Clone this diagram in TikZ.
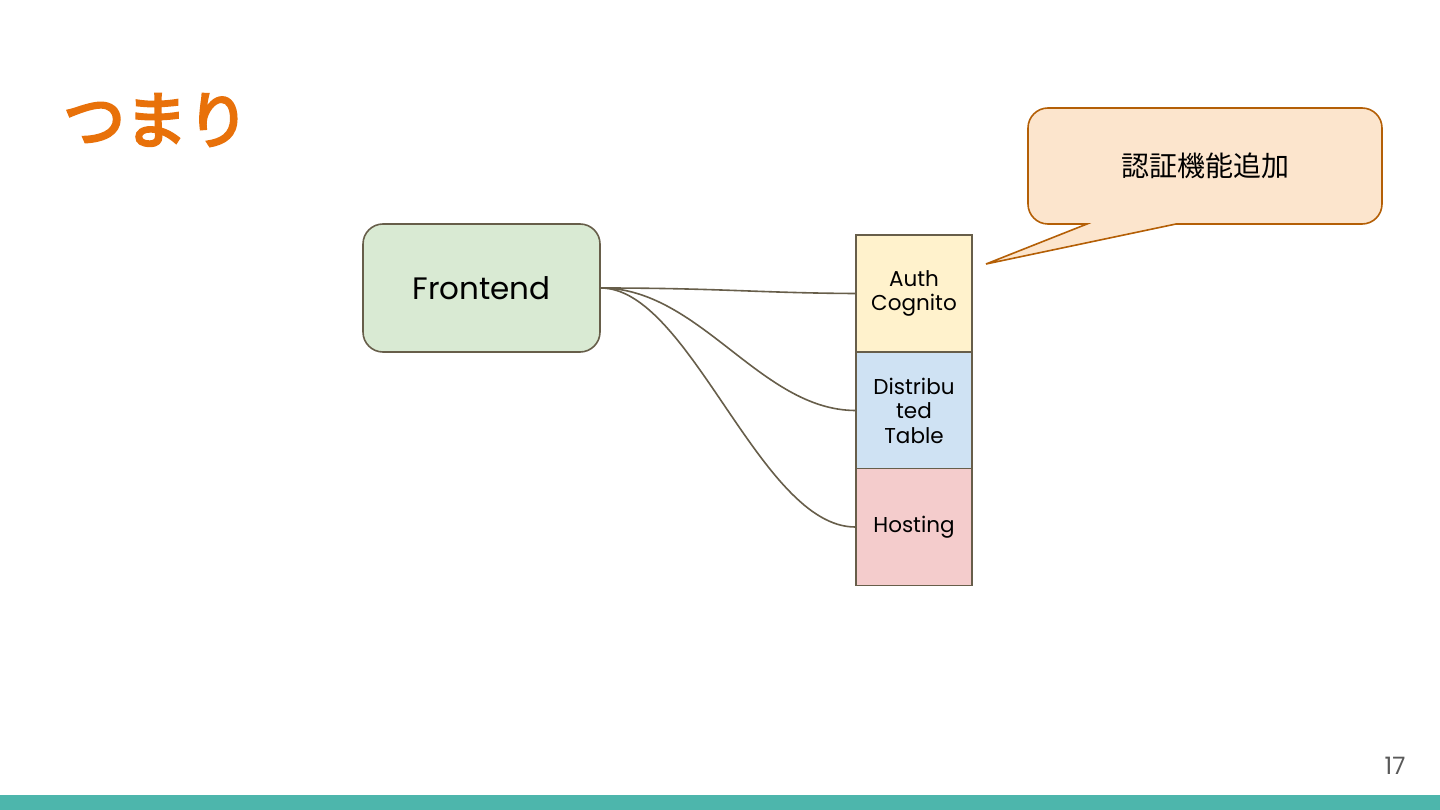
\documentclass[tikz,border=0pt]{standalone}
\usepackage{fontspec}
\setmainfont{Poppins}
\newfontfamily\jpfont{Noto Sans CJK JP}
\newfontfamily\jptitle[FakeBold=4]{Noto Sans CJK JP}
\definecolor{titleorange}{HTML}{E8710A}
\definecolor{frontfill}{HTML}{D9EAD3}
\definecolor{authfill}{HTML}{FFF2CC}
\definecolor{tablefill}{HTML}{CFE2F3}
\definecolor{hostfill}{HTML}{F4CCCC}
\definecolor{edgegray}{HTML}{675E4A}
\definecolor{callfill}{HTML}{FCE5CD}
\definecolor{callline}{HTML}{B45F06}
\definecolor{teal}{HTML}{4DB6AC}
\definecolor{pagegray}{HTML}{595959}
\begin{document}
\begin{tikzpicture}[x=1pt,y=-1pt,
  svc/.style={draw=edgegray, line width=1.6pt, minimum width=116pt, minimum height=117pt, inner sep=0pt, align=center, font=\fontsize{21.5}{24.5}\selectfont, text=black},
  link/.style={draw=edgegray, line width=1.6pt}]
\useasboundingbox (0,0) rectangle (1440,810);
\fill[white] (0,0) rectangle (1440,810);
\fill[teal] (0,795) rectangle (1440,810);
\node[anchor=west, text=titleorange, font=\jptitle\fontsize{62}{64}\selectfont, inner sep=0pt] (title) at (63,120) {つまり};
\node[draw=edgegray, line width=1.6pt, fill=frontfill, rounded corners=20pt, minimum width=237pt, minimum height=128pt, font=\fontsize{31}{34}\selectfont] (front) at (481.5,288) {Frontend};
\node[svc, fill=authfill] (auth) at (914,293.5) {Auth\\Cognito};
\node[svc, fill=tablefill] (table) at (914,410.5) {Distribu\\ted\\Table};
\node[svc, fill=hostfill] (host) at (914,527) {Hosting};
\draw[link] (front.east) .. controls (720,288) and (760,293) .. (auth.west);
\draw[link] (front.east) .. controls (700,288) and (760,410) .. (table.west);
\draw[link] (front.east) .. controls (690,288) and (760,527) .. (host.west);
\draw[draw=callline, fill=callfill, line width=1.6pt] (1087,224) -- (986,264) -- (1176,224) [rounded corners=20pt] -- (1382,224) -- (1382,108) -- (1028,108) -- (1028,224) [sharp corners] -- cycle;
\node[font=\jpfont\fontsize{28}{32}\selectfont, text=black] (calltext) at (1205,166) {認証機能追加};
\node[font=\fontsize{24}{26}\selectfont, text=pagegray] (page) at (1395,766) {17};
\end{tikzpicture}
\end{document}
